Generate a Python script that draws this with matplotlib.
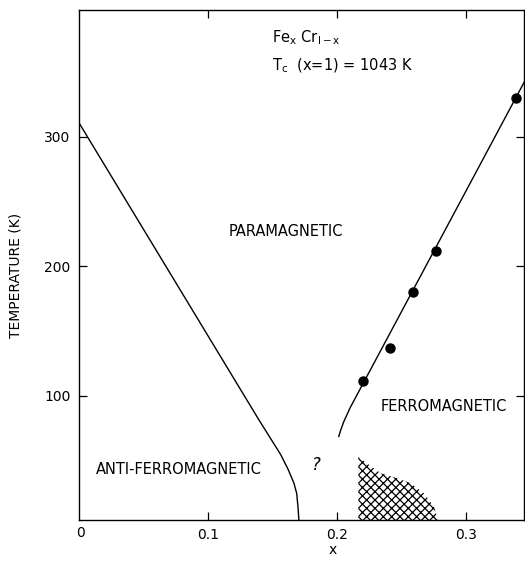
import matplotlib
matplotlib.use("Agg")
import matplotlib.pyplot as plt
import numpy as np

plt.rcParams['font.family'] = ['DejaVu Sans']
plt.rcParams['hatch.linewidth'] = 0.9
plt.rcParams['mathtext.default'] = 'regular'

# Anti-ferromagnetic / paramagnetic boundary (Neel line)
af_x = [0.0, 0.1393, 0.1562, 0.1620, 0.1665, 0.1686, 0.1696, 0.1706]
af_y = [310.0, 81.3, 54.5, 43.0, 32.4, 24.6, 14.3, 0.0]

# Ferromagnetic / paramagnetic boundary (Curie line)
fm_x = [0.2013, 0.2025, 0.2050, 0.2100, 0.3460]
fm_y = [68.5, 72.5, 79.5, 90.5, 343.5]

# Measured Curie temperatures
pts_x = [0.2204, 0.2411, 0.2590, 0.2766, 0.3388]
pts_y = [111.6, 136.6, 179.8, 211.7, 330.1]

# Hatched (spin-glass-like) region upper boundary
hat_x = [0.2165, 0.2165, 0.2250, 0.2339, 0.2468, 0.2572, 0.2675, 0.2753, 0.2795]
hat_y = [0.0, 52.7, 46.5, 40.1, 36.2, 32.4, 24.6, 14.3, 0.0]

xticks = [0.1, 0.2, 0.3]
yticks = [100, 200, 300]

fig = plt.figure(figsize=(5.25, 5.61), dpi=100)
ax = fig.add_axes([79/525, 41/561, 445/525, 510/561])

ax.plot(af_x, af_y, color='black', lw=1.0)
ax.plot(fm_x, fm_y, color='black', lw=1.0)
ax.plot(pts_x, pts_y, 'o', color='black', ms=6.5)
ax.fill_between(hat_x, hat_y, 0, facecolor='none', edgecolor='black',
                hatch='xxxx', linewidth=0)

ax.set_xlim(-0.0005, 0.3452)
ax.set_ylim(4, 398)

ax.set_xticks(xticks)
ax.set_xticklabels(['0.1', '0.2', '0.3'])
ax.set_yticks(yticks)
ax.set_yticklabels(['100', '200', '300'])
ax.tick_params(direction='in', length=6, width=0.9, top=True, right=True,
               labelsize=10)
ax.tick_params(axis='y', pad=6)
ax.tick_params(axis='x', pad=6)
for s in ax.spines.values():
    s.set_linewidth(1.0)

ax.text(0.001, -0.012, '0', transform=ax.get_xaxis_transform(),
        ha='center', va='top', fontsize=10)

ax.set_ylabel('TEMPERATURE (K)', fontsize=10)
ax.yaxis.set_label_coords(-0.128, 0.48)
ax.set_xlabel('x', fontsize=10)
ax.xaxis.set_label_coords((333 - 79) / 445, -0.045)

ax.text(0.1492, 373.4, r'Fe$_{\rm x}$ Cr$_{\rm I-x}$', fontsize=10.5,
        ha='left', va='baseline')
ax.text(0.1492, 351.5, r'T$_{\rm c}$  (x=1) = 1043 K', fontsize=10.5,
        ha='left', va='baseline')

ax.text(0.160, 227.2, 'PARAMAGNETIC', fontsize=10.5, ha='center', va='center')
ax.text(0.2831, 91.5, 'FERROMAGNETIC', fontsize=10.5, ha='center', va='center')
ax.text(0.0774, 43.2, 'ANTI-FERROMAGNETIC', fontsize=10.5, ha='center', va='center')
ax.text(0.1841, 46.5, '?', fontsize=12, ha='center', va='center', style='italic')

fig.savefig('out.png', dpi=100)
